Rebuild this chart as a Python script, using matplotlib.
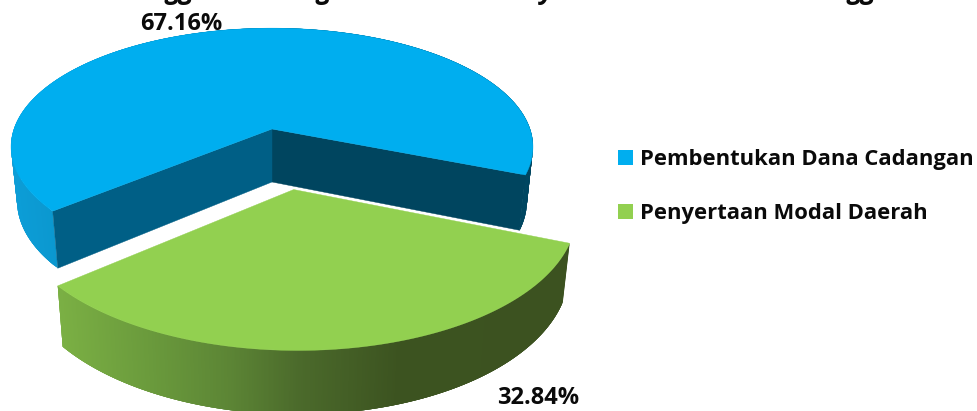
import numpy as np
import matplotlib
matplotlib.use('Agg')
import matplotlib.pyplot as plt
from matplotlib.patches import Polygon, Patch
from matplotlib.colors import to_rgb

# --- dados ---
categorias = ['Pembentukan Dana Cadangan', 'Penyertaan Modal Daerah']
valores = [67.16, 32.84]
rotulos = ['67.16%', '32.84%']

AZUL, VERDE = '#00aeef', '#92d050'
PAREDE_ESQ, PAREDE_DIR = '#005f86', '#00455f'
FONTE = 'Open Sans'

# geometria da pizza "3D" (pixels da imagem)
CX, CY = 272, 129
A, B, P = 258, 116, 0.15
EXPLODE = 0.49
ALTURA, ESC_X, ESC_Y = 53, 0.977, 1.05
INICIO = 140.2

GRAD_AZUL = [(0, '#0d9fd9'), (60, '#0b97ce'), (300, '#00688f'), (540, '#00455f')]
GRAD_VERDE = [(57, '#7bb044'), (150, '#6a9a3c'), (230, '#5c8535'),
              (300, '#4b6a2b'), (400, '#3c5320'), (570, '#3c5220')]


def projeta(ux, uy, fundo=False):
    x = CX + A * ux / (1 - P * uy)
    y = CY + B * uy / (1 - P * uy)
    if fundo:
        x = CX + ESC_X * (x - CX)
        y = CY + ALTURA + ESC_Y * (y - CY)
    return np.array([x, y])


def cor_gradiente(x, stops):
    xs = [s[0] for s in stops]
    rgb = np.array([to_rgb(s[1]) for s in stops])
    return [np.interp(x, xs, rgb[:, i]) for i in range(3)]


def fatia(ax, t0, t1, desloc, topo, stops, paredes=None):
    ts = np.radians(np.linspace(t0, t1, 400))
    ux = desloc[0] + np.cos(ts)
    uy = desloc[1] + np.sin(ts)

    # parede externa em faixas sobrepostas, para o degrade nao mostrar emendas
    for i in range(len(ts) - 1):
        j = min(i + 4, len(ts) - 1)
        arco = [projeta(ux[k], uy[k]) for k in range(i, j + 1)]
        arco_b = [projeta(ux[k], uy[k], True) for k in range(j, i - 1, -1)]
        cor = cor_gradiente((arco[0][0] + arco[1][0]) / 2, stops)
        ax.add_patch(Polygon(arco + arco_b, closed=True, fc=cor, ec='none'))

    centro = projeta(desloc[0], desloc[1])
    centro_b = projeta(desloc[0], desloc[1], True)
    if paredes:
        for (idx, cor) in paredes:
            p = projeta(ux[idx], uy[idx])
            q = projeta(ux[idx], uy[idx], True)
            ax.add_patch(Polygon([centro, p, q, centro_b], closed=True, fc=cor, ec=cor, lw=0.3))

    borda = np.array([projeta(x, y) for x, y in zip(ux, uy)])
    ax.add_patch(Polygon(np.vstack([centro, borda]), closed=True, fc=topo, ec=topo, lw=0.3))


fig = plt.figure(figsize=(9.78, 4.11), dpi=100)
ax = fig.add_axes([0, 0, 1, 1])
ax.set_xlim(0, 978)
ax.set_ylim(411, 0)
ax.axis('off')

angulos = np.array(valores) / sum(valores) * 360
fim_azul = INICIO + angulos[0]
fim_verde = fim_azul + angulos[1]
meio = np.radians((fim_azul + fim_verde) / 2)
desloc_verde = (EXPLODE * np.cos(meio) + 0.002, EXPLODE * np.sin(meio))

fatia(ax, INICIO, fim_azul, (0, 0), AZUL, GRAD_AZUL,
      paredes=[(-1, PAREDE_DIR), (0, PAREDE_ESQ)])
fatia(ax, fim_azul, fim_verde, desloc_verde, VERDE, GRAD_VERDE)

ax.text(181.5, 24, rotulos[0], ha='center', va='center', family=FONTE,
        weight='bold', fontsize=17, color='#0a0a0a')
ax.text(538, 398, rotulos[1], ha='center', va='center', family=FONTE,
        weight='bold', fontsize=17, color='#0a0a0a')

# pedacos do titulo cortado no topo da imagem
for x, s in [(180, 'gg'), (324, 'g'), (547, 'y'), (862, 'gg')]:
    ax.text(x, -1, s, ha='center', va='baseline', family=FONTE, weight='bold',
            style='italic', fontsize=19, color='#0a0a0a', clip_on=True)

handles = [Patch(fc=AZUL, ec='none'), Patch(fc=VERDE, ec='none')]
ax.legend(handles, categorias, loc='upper left', bbox_to_anchor=(618 / 978, 1 - 149 / 411),
          frameon=False, borderpad=0, borderaxespad=0, handlelength=0.69, handleheight=0.69,
          handletextpad=0.3, labelspacing=1.5,
          prop={'family': FONTE, 'weight': 'bold', 'size': 15.85}, labelcolor='#0a0a0a')

fig.savefig('out.png', dpi=100)
